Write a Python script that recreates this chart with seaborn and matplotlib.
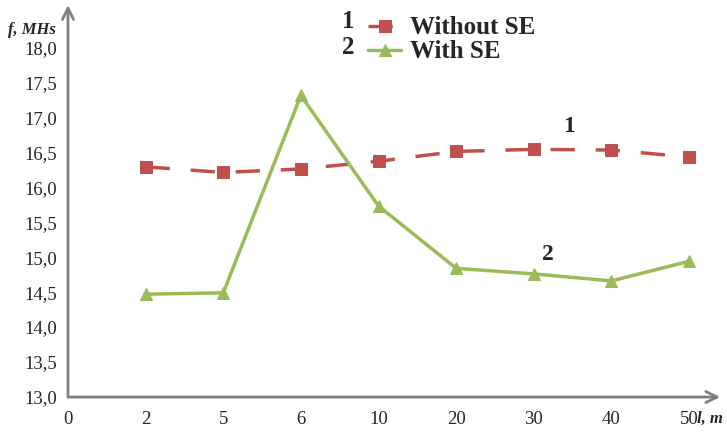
import numpy as np
import pandas as pd
import matplotlib.pyplot as plt
import seaborn as sns

# data
lengths = ["0", "2", "5", "6", "10", "20", "30", "40", "50"]
points = ["2", "5", "6", "10", "20", "30", "40", "50"]
without_se = [16.29, 16.21, 16.26, 16.37, 16.51, 16.54, 16.53, 16.43]
with_se = [14.47, 14.49, 17.31, 15.73, 14.84, 14.76, 14.66, 14.94]

sns.set_style("white")
plt.rcParams["font.family"] = ["Liberation Serif", "DejaVu Serif"]

pos = [lengths.index(p) for p in points]
df1 = pd.DataFrame({"pos": pos, "f": without_se})
df2 = pd.DataFrame({"pos": pos, "f": with_se})

fig = plt.figure(figsize=(7.27, 4.33), dpi=100)
ax = fig.add_axes([0.0935, 0.083, 0.897, 0.905])

red = "#C0504D"
green = "#9BBB59"
sns.lineplot(data=df1, x="pos", y="f", ax=ax, color=red, lw=2.5,
             marker="s", markersize=8, markeredgecolor=red,
             label="Without SE")
ax.lines[-1].set_dashes([7, 6])
sns.lineplot(data=df2, x="pos", y="f", ax=ax, color=green, lw=2.5,
             marker="^", markersize=8, markeredgecolor=green,
             label="With SE")

ax.set_xlim(0, 8.4)
ax.set_ylim(13.0, 18.6)
ax.set_xticks(range(len(lengths)))
ax.set_xticklabels(lengths)
yt = np.arange(13.0, 18.01, 0.5)
ax.set_yticks(yt)
ax.set_yticklabels([f"{v:.1f}".replace(".", ",") for v in yt])
ax.tick_params(axis="both", labelsize=13.5, length=4, color="#999999",
               direction="inout", width=1.5)
ax.tick_params(axis="x", pad=8)
ax.tick_params(axis="y", pad=6)
ax.set_xlabel("")
ax.set_ylabel("")

for s in ax.spines.values():
    s.set_visible(False)

# axis arrows
ax.annotate("", xy=(0, 1.0), xytext=(0, 0), xycoords="axes fraction",
            arrowprops=dict(arrowstyle="->", color="#7f7f7f", lw=2,
                            mutation_scale=20, shrinkA=0, shrinkB=0))
ax.annotate("", xy=(1.0, 0), xytext=(0, 0), xycoords="axes fraction",
            arrowprops=dict(arrowstyle="->", color="#7f7f7f", lw=2,
                            mutation_scale=20, shrinkA=0, shrinkB=0))

fig.text(8 / 727, 1 - 30 / 433, "f, MHs", fontsize=12, fontweight="bold",
         fontstyle="italic", va="center", ha="left")
fig.text(697 / 727, 1 - 419 / 433, "l, m", fontsize=12, fontweight="bold",
         fontstyle="italic", va="center", ha="left")

ax.text(6.45, 16.86, "1", fontsize=17, fontweight="bold", ha="center", va="center")
ax.text(6.18, 15.04, "2", fontsize=17, fontweight="bold", ha="center", va="center")

leg = ax.legend(loc="upper left", bbox_to_anchor=(352 / 727, 1.0),
                bbox_transform=fig.transFigure, frameon=False,
                prop={"size": 18, "weight": "bold"}, handlelength=1.3,
                handletextpad=0.35, labelspacing=0.05, borderaxespad=0.25)
fig.text(348 / 727, 1 - 22 / 433, "1", fontsize=18, fontweight="bold",
         ha="center", va="center")
fig.text(348 / 727, 1 - 48 / 433, "2", fontsize=18, fontweight="bold",
         ha="center", va="center")

fig.savefig("out.png", dpi=100)
